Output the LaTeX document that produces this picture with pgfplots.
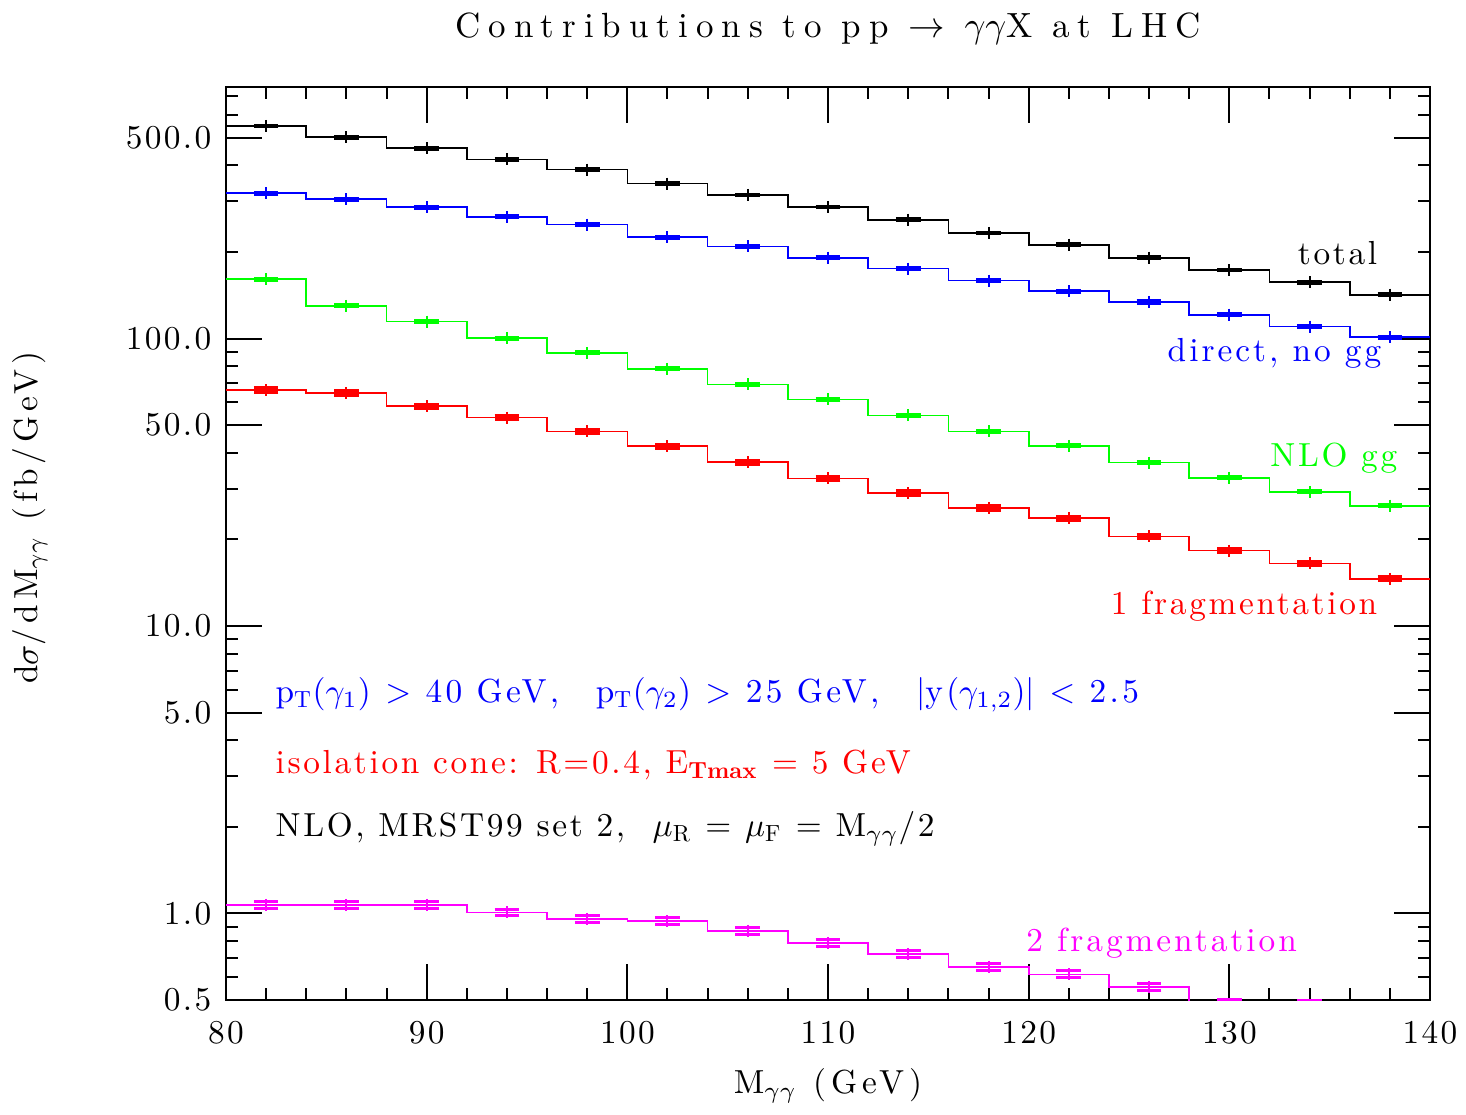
\documentclass[border=0pt]{standalone}
\usepackage{fontspec}
\setmainfont{lmroman10-regular.otf}[BoldFont=lmroman10-bold.otf,ItalicFont=lmroman10-italic.otf]
\usepackage{pgfplots}
\usepackage{pgfplotstable}
\pgfplotsset{compat=1.18}
\newcommand\ls[1]{\addfontfeatures{LetterSpace=#1}}
\definecolor{mag}{RGB}{255,0,255}
\definecolor{grn}{RGB}{0,255,0}
\definecolor{blu}{RGB}{0,0,255}
\definecolor{rd}{RGB}{255,0,0}

\pgfplotstableread{
lo c y e
80 82 549 3.0
84 86 501 3.0
88 90 459 2.8
92 94 420 2.5
96 98 387 2.3
100 102 346 2.1
104 106 316 1.9
108 110 287 1.7
112 114 259 1.6
116 118 233 1.4
120 122 212 1.3
124 126 191 1.2
128 130 173 1.0
132 134 157 1.0
136 138 142 0.9
140 nan 142 0
}\tot

\pgfplotstableread{
lo c y e
80 82 320 2.6
84 86 305 2.4
88 90 286 2.3
92 94 265 2.1
96 98 249 2.0
100 102 225 1.8
104 106 209 1.7
108 110 191 1.5
112 114 175 1.4
116 118 159 1.3
120 122 146 1.2
124 126 134 1.1
128 130 121 1.0
132 134 110 0.9
136 138 101 0.8
140 nan 101 0
}\dir

\pgfplotstableread{
lo c y e
80 82 161 1.3
84 86 130 1.0
88 90 114.5 0.9
92 94 100.4 0.8
96 98 89.2 0.7
100 102 78.5 0.6
104 106 69.2 0.55
108 110 61.4 0.5
112 114 54.0 0.45
116 118 47.5 0.4
120 122 42.3 0.35
124 126 37.0 0.3
128 130 32.8 0.27
132 134 29.3 0.24
136 138 26.2 0.21
140 nan 26.2 0
}\ggg

\pgfplotstableread{
lo c y e
80 82 66.1 1.2
84 86 64.6 1.2
88 90 58.1 1.0
92 94 53.1 0.95
96 98 47.5 0.85
100 102 42.2 0.75
104 106 37.1 0.65
108 110 32.6 0.58
112 114 29.0 0.52
116 118 25.7 0.46
120 122 23.7 0.42
124 126 20.5 0.37
128 130 18.3 0.33
132 134 16.5 0.3
136 138 14.6 0.26
140 nan 14.6 0
}\onefrag

\pgfplotstableread{
lo c y e
80 82 1.071 0.030
84 86 1.071 0.030
88 90 1.071 0.030
92 94 1.008 0.028
96 98 0.957 0.027
100 102 0.940 0.026
104 106 0.871 0.025
108 110 0.791 0.022
112 114 0.721 0.020
116 118 0.653 0.018
120 122 0.614 0.017
124 126 0.555 0.016
128 130 0.490 0.012
132 134 0.486 0.014
136 138 0.450 0.013
140 nan 0.450 0
}\twofrag

\pgfplotsset{
  hist/.style={line width=0.5pt, const plot, mark=none},
  pts/.style={only marks, mark=|, mark size=1.8pt, mark options={line width=0.6pt},
    error bars/.cd, y dir=both, y explicit, error mark=|,
    error mark options={mark size=3.7pt, line width=0.9pt},
    error bar style={line width=0.6pt}},
}

\begin{document}
\begin{tikzpicture}
\begin{axis}[
  scale only axis, width=361.2pt, height=273.9pt,
  xmin=80, xmax=140, ymode=log, ymin=0.5, ymax=750,
  axis line style={line width=0.6pt},
  every tick/.style={black, line width=0.6pt},
  tick align=inside,
  major tick length=10.8pt, minor tick length=3.6pt,
  xtick={80,90,...,140}, minor xtick={82,84,...,138},
  xticklabels={80,90,100,110,120,130,140},
  ytick={0.5,1,5,10,50,100,500},
  yticklabels={0.5,1.0,5.0,10.0,50.0,100.0,500.0},
  minor ytick={0.6,0.7,0.8,0.9,2,3,4,6,7,8,9,20,30,40,60,70,80,90,200,300,400,600,700},
  tick label style={font=\fontsize{10}{12}\selectfont\ls{7}},
  xticklabel style={anchor=base, yshift=-12.9pt},
  yticklabel style={xshift=-0.9pt},
  clip marker paths=true,
]
\addplot[black, hist] table[x=lo, y=y] {\tot};
\addplot[black, pts] table[x=c, y=y, y error=e] {\tot};
\addplot[blu, hist] table[x=lo, y=y] {\dir};
\addplot[blu, pts] table[x=c, y=y, y error=e] {\dir};
\addplot[grn, hist] table[x=lo, y=y] {\ggg};
\addplot[grn, pts] table[x=c, y=y, y error=e] {\ggg};
\addplot[rd, hist] table[x=lo, y=y] {\onefrag};
\addplot[rd, pts] table[x=c, y=y, y error=e] {\onefrag};
\addplot[mag, hist] table[x=lo, y=y] {\twofrag};
\addplot[mag, pts] table[x=c, y=y, y error=e] {\twofrag};

\node[anchor=base east, inner sep=0pt, font=\fontsize{10}{12}\selectfont\ls{8}, text=black] at (axis cs:137.4,180.7) {total};
\node[anchor=base east, inner sep=0pt, font=\fontsize{10}{12}\selectfont\ls{9}, text=blu] at (axis cs:137.6,83.4) {direct, no gg};
\node[anchor=base east, inner sep=0pt, font=\fontsize{10}{12}\selectfont\ls{8}, text=grn] at (axis cs:138.4,36.0) {NLO gg};
\node[anchor=base east, inner sep=0pt, font=\fontsize{10}{12}\selectfont\ls{8}, text=rd] at (axis cs:137.4,11.0) {1 fragmentation};
\node[anchor=base east, inner sep=0pt, font=\fontsize{10}{12}\selectfont\ls{9}, text=mag] at (axis cs:133.4,0.736) {2 fragmentation};

\node[anchor=base west, inner sep=0pt, font=\fontsize{10}{12}\selectfont\ls{10}, text=blu] at (axis cs:82.44,5.434)
  {p$_{\mathrm{T}}$($\gamma_1$) $>$ 40 GeV,\hspace{11pt}p$_{\mathrm{T}}$($\gamma_2$) $>$ 25 GeV,\hspace{11pt}$|$y($\gamma_{1,2}$)$|$ $<$ 2.5};
\node[anchor=base west, inner sep=0pt, font=\fontsize{10}{12}\selectfont\ls{8}, text=rd] at (axis cs:82.44,3.063)
  {isolation cone: R=0.4, E$_{\mathbf{Tmax}}$ = 5 GeV};
\node[anchor=base west, inner sep=0pt, font=\fontsize{10}{12}\selectfont\ls{8}, text=black] at (axis cs:82.44,1.846)
  {NLO, MRST99 set 2,\ \ $\mu_{\mathrm{R}}$ = $\mu_{\mathrm{F}}$ = M$_{\gamma\gamma}$/2};
\end{axis}

\node[anchor=base, inner sep=0pt, font=\fontsize{10.5}{12.5}\selectfont\ls{23}] at ([yshift=14.7pt]current axis.north)
  {Contributions to pp $\rightarrow$ $\gamma\gamma$X at LHC};
\node[anchor=base, inner sep=0pt, font=\fontsize{10}{12}\selectfont\ls{15}] at ([yshift=-27.9pt]current axis.south)
  {M$_{\gamma\gamma}$ (GeV)};
\node[rotate=90, anchor=base, inner sep=0pt, font=\fontsize{10}{12}\selectfont\ls{15}] at ([xshift=-56.4pt, yshift=7.8pt]current axis.west)
  {d$\sigma$/dM$_{\gamma\gamma}$ (fb/GeV)};

\pgfresetboundingbox
\path ([shift={(-67.8pt,-34.2pt)}]current axis.south west) rectangle ([shift={(10.8pt,26.1pt)}]current axis.north east);
\end{tikzpicture}
\end{document}
